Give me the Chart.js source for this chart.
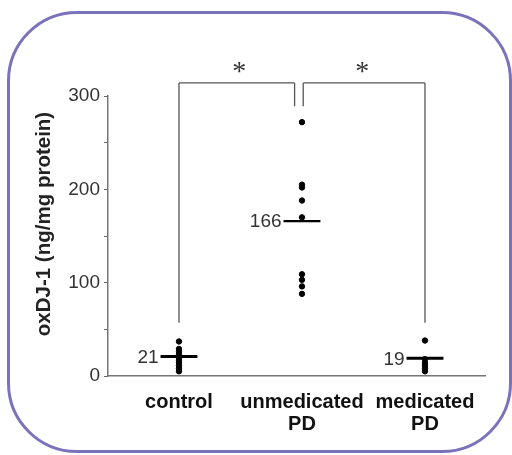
<!DOCTYPE html>
<html>
<head>
<meta charset="utf-8">
<script src="https://cdn.jsdelivr.net/npm/chart.js@4.4.1/dist/chart.umd.min.js"></script>
<style>
  body { margin: 0; background: #fff; }
  #wrap { position: relative; width: 512px; height: 455px; overflow: hidden; }
  #frame {
    position: absolute; left: 7px; top: 11px; width: 505px; height: 442px;
    box-sizing: border-box; border: 3px solid #7b72bc; border-radius: 70px;
  }
  #chart { position: absolute; left: 0; top: 0; }
</style>
</head>
<body>
<div id="wrap">
  <div id="frame"></div>
  <canvas id="chart" width="512" height="455"></canvas>
</div>
<script>
// groups and values
const categories = ['control', ['unmedicated', 'PD'], ['medicated', 'PD']];
const controlValues = [37, 29, 26, 23, 20, 17, 14, 11, 8, 5];
const unmedicatedValues = [272, 205, 202, 188, 170, 109, 103, 96, 88];
const medicatedValues = [38, 18, 14, 11, 8, 5];
const means = [21, 166, 19];
const yTickLabels = [0, 100, 200, 300];
const significance = ['*', '*'];

const groupX = [1, 2, 3];
const halfBar = 0.15;

const toPoints = (vals, x) => vals.map(v => ({ x: x, y: v }));

const dotDataset = (vals, x) => ({
  type: 'scatter',
  data: toPoints(vals, x),
  backgroundColor: '#000',
  borderColor: '#000',
  pointRadius: 2.7,
  pointHoverRadius: 2.7
});

const meanDataset = (m, x, w) => ({
  type: 'line',
  data: [{ x: x - halfBar, y: m }, { x: x + halfBar, y: m }],
  borderColor: '#000',
  borderWidth: w,
  pointRadius: 0,
  fill: false
});

// brackets, stars, mean labels, y title
const annotations = {
  id: 'annotations',
  afterDraw(chart) {
    const { ctx, scales: { x, y } } = chart;
    ctx.save();

    // significance brackets
    ctx.strokeStyle = '#555';
    ctx.lineWidth = 1.3;
    const top = y.getPixelForValue(314);
    const innerBottom = y.getPixelForValue(289);
    const outerBottom = y.getPixelForValue(57);
    const seg = (x1, y1, x2, y2) => {
      ctx.beginPath();
      ctx.moveTo(x1, y1);
      ctx.lineTo(x2, y2);
      ctx.stroke();
    };
    const xl = x.getPixelForValue(1), xr = x.getPixelForValue(3);
    const xi1 = x.getPixelForValue(1.94), xi2 = x.getPixelForValue(2.01);
    seg(xl, outerBottom, xl, top);
    seg(xl, top, xi1, top);
    seg(xi1, top, xi1, innerBottom);
    seg(xi2, innerBottom, xi2, top);
    seg(xi2, top, xr, top);
    seg(xr, top, xr, outerBottom);

    ctx.fillStyle = '#333';
    ctx.font = '28px "Liberation Serif"';
    ctx.textAlign = 'center';
    ctx.textBaseline = 'middle';
    ctx.fillText(significance[0], x.getPixelForValue(1.49), y.getPixelForValue(325));
    ctx.fillText(significance[1], x.getPixelForValue(2.49), y.getPixelForValue(325));

    // mean labels
    ctx.font = '19px "Liberation Sans", Arial';
    ctx.textAlign = 'right';
    means.forEach((m, i) => {
      ctx.fillText(String(m), x.getPixelForValue(groupX[i] - halfBar) - 2, y.getPixelForValue(m) + 1);
    });

    // y axis title
    ctx.translate(44, 224);
    ctx.rotate(-Math.PI / 2);
    ctx.textAlign = 'center';
    ctx.fillStyle = '#222';
    ctx.font = 'bold 20.5px "Liberation Sans", Arial';
    ctx.fillText('oxDJ-1 (ng/mg protein)', 0, 0);
    ctx.restore();
  }
};

new Chart(document.getElementById('chart'), {
  type: 'scatter',
  data: {
    datasets: [
      dotDataset(controlValues, groupX[0]),
      dotDataset(unmedicatedValues, groupX[1]),
      dotDataset(medicatedValues, groupX[2]),
      meanDataset(means[0], groupX[0], 3),
      meanDataset(means[1], groupX[1], 2.2),
      meanDataset(means[2], groupX[2], 3)
    ]
  },
  options: {
    responsive: false,
    animation: false,
    layout: { padding: { top: 96, right: 27, left: 0, bottom: 0 } },
    plugins: {
      legend: { display: false },
      tooltip: { enabled: false }
    },
    scales: {
      x: {
        type: 'linear',
        min: 0.423,
        max: 3.488,
        afterFit: (s) => { s.height = 79; },
        afterBuildTicks: (s) => { s.ticks = groupX.map(v => ({ value: v })); },
        grid: { display: false, drawTicks: false },
        border: { display: true, color: '#777', width: 1.5 },
        ticks: {
          padding: 15,
          color: '#111',
          font: { family: '"Liberation Sans", Arial', size: 20, weight: 'bold', lineHeight: 1.1 },
          callback: (v) => categories[groupX.indexOf(v)]
        }
      },
      y: {
        min: 0,
        max: 300,
        afterFit: (s) => { s.width = 108; },
        grid: { drawOnChartArea: false, tickLength: 4, color: '#666' },
        border: { display: true, color: '#777', width: 1.5 },
        ticks: {
          stepSize: 50,
          padding: 4,
          color: '#333',
          font: { family: '"Liberation Sans", Arial', size: 19 },
          callback: (v) => yTickLabels.includes(v) ? v : ''
        }
      }
    }
  },
  plugins: [annotations]
});
</script>
</body>
</html>
